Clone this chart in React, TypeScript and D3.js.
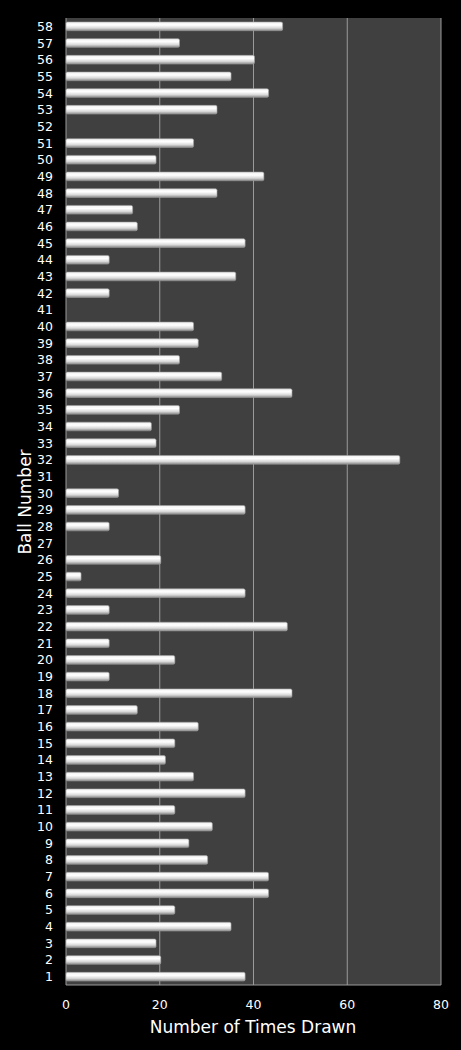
import React from "react";
import * as d3 from "d3";

const balls: number[] = Array.from({ length: 58 }, (_, i) => i + 1);
const timesDrawn: number[] = [
  38, 20, 19, 35, 23, 43, 43, 30, 26, 31,
  23, 38, 27, 21, 23, 28, 15, 48, 9, 23,
  9, 47, 9, 38, 3, 20, 0, 9, 38, 11,
  0, 71, 19, 18, 24, 48, 33, 24, 28, 27,
  0, 9, 36, 9, 38, 15, 14, 32, 42, 19,
  27, 0, 32, 43, 35, 40, 24, 46,
];
const xTicks: number[] = [0, 20, 40, 60, 80];

const W = 461;
const H = 1050;
const left = 66;
const right = 441;
const top = 18;
const bottom = 985;
const FONT = "Verdana, 'DejaVu Sans', sans-serif";

export default function App() {
  const x = d3.scaleLinear().domain([0, 80]).range([left, right]);
  const y = d3
    .scaleBand<number>()
    .domain([...balls].reverse())
    .range([top, bottom])
    .paddingInner(0.48)
    .paddingOuter(0.24);
  const bh = y.bandwidth();

  return (
    <svg
      width={W}
      height={H}
      style={{ position: "absolute", left: 0, top: 0, background: "#000" }}
    >
      <defs>
        <linearGradient id="barGrad" x1="0" y1="0" x2="0" y2="1">
          <stop offset="0%" stopColor="#f0f0f0" />
          <stop offset="35%" stopColor="#ffffff" />
          <stop offset="70%" stopColor="#d8d8d8" />
          <stop offset="100%" stopColor="#8a8a8a" />
        </linearGradient>
      </defs>
      <rect x={0} y={0} width={W} height={H} fill="#000" />
      <rect x={left} y={top} width={right - left} height={bottom - top} fill="#404040" />
      {xTicks.slice(1).map((t) => (
        <line key={t} x1={x(t)} x2={x(t)} y1={top} y2={bottom} stroke="#9a9a9a" strokeWidth={1} />
      ))}
      <line x1={left} x2={left} y1={top} y2={bottom} stroke="#9a9a9a" strokeWidth={1} />
      <line x1={left} x2={right} y1={bottom} y2={bottom} stroke="#9a9a9a" strokeWidth={1} />
      {balls.map((b, i) => {
        const v = timesDrawn[i];
        const yy = y(b)!;
        if (v <= 0) return null;
        const w = x(v) - x(0) + 1;
        return (
          <rect key={b} x={x(0)} y={yy} width={w} height={bh} rx={1.5} fill="url(#barGrad)" stroke="#a0a0a0" strokeWidth={0.6} />
        );
      })}
      {balls.map((b) => (
        <text
          key={b}
          x={53}
          y={y(b)! + bh / 2}
          textAnchor="end"
          dominantBaseline="central"
          fill="#fff"
          fontFamily={FONT}
          fontSize={12.5}
        >
          {b}
        </text>
      ))}
      {xTicks.map((t) => (
        <text key={t} x={x(t)} y={1009} textAnchor="middle" fill="#fff" fontFamily={FONT} fontSize={12.5}>
          {t}
        </text>
      ))}
      <text x={253} y={1033} textAnchor="middle" fill="#fff" fontFamily={FONT} fontSize={17}>
        Number of Times Drawn
      </text>
      <text
        transform={`translate(31, 502) rotate(-90)`}
        textAnchor="middle"
        fill="#fff"
        fontFamily={FONT}
        fontSize={17}
      >
        Ball Number
      </text>
    </svg>
  );
}
